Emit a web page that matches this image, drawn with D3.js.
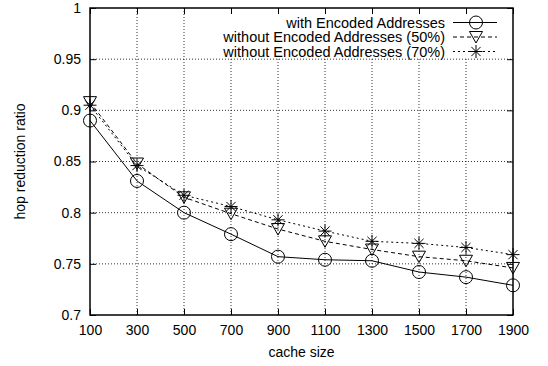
<!DOCTYPE html>
<html>
<head>
<meta charset="utf-8">
<script src="https://cdn.jsdelivr.net/npm/d3@7"></script>
<style>
  body { margin: 0; background: #fff; }
  svg { font-family: "Liberation Sans", Arial, sans-serif; }
</style>
</head>
<body>
<div id="chart"></div>
<script>
// cache sizes on the x axis
const cacheSizes = [100, 300, 500, 700, 900, 1100, 1300, 1500, 1700, 1900];

// hop reduction ratio per series
const withEncoded = [0.890, 0.831, 0.800, 0.779, 0.757, 0.754, 0.753, 0.742, 0.737, 0.729];
const without50 = [0.908, 0.848, 0.815, 0.799, 0.784, 0.772, 0.764, 0.757, 0.753, 0.746];
const without70 = [0.905, 0.846, 0.817, 0.806, 0.793, 0.782, 0.772, 0.770, 0.766, 0.759];

const seriesNames = ["with Encoded Addresses", "without Encoded Addresses (50%)", "without Encoded Addresses (70%)"];
const yTicks = [0.7, 0.75, 0.8, 0.85, 0.9, 0.95, 1];

const W = 548, H = 366;
const margin = { left: 90, right: 35, top: 8, bottom: 51 };
const iw = W - margin.left - margin.right;
const ih = H - margin.top - margin.bottom;

const svg = d3.select("#chart").append("svg")
  .attr("width", W).attr("height", H);

const g = svg.append("g")
  .attr("transform", `translate(${margin.left},${margin.top})`);

const x = d3.scaleLinear().domain([100, 1900]).range([0, iw]);
const y = d3.scaleLinear().domain([0.7, 1]).range([ih, 0]);

/** grid */
g.append("g").selectAll("line")
  .data(cacheSizes.slice(1, -1))
  .join("line")
  .attr("x1", d => x(d)).attr("x2", d => x(d))
  .attr("y1", 0).attr("y2", ih)
  .attr("stroke", "#000").attr("stroke-width", 0.8)
  .attr("stroke-dasharray", "1,2");

g.append("g").selectAll("line")
  .data(yTicks.slice(1, -1))
  .join("line")
  .attr("x1", 0).attr("x2", iw)
  .attr("y1", d => y(d)).attr("y2", d => y(d))
  .attr("stroke", "#000").attr("stroke-width", 0.8)
  .attr("stroke-dasharray", "1,2");

// legend box blanks the grid behind it
g.append("rect")
  .attr("x", 126).attr("y", 0)
  .attr("width", iw - 126).attr("height", 49)
  .attr("fill", "#fff");

/** axes: inward ticks, mirrored */
const fmtY = d => d === 1 ? "1" : d3.format(".2~f")(d);

g.append("g")
  .attr("transform", `translate(0,${ih})`)
  .call(d3.axisBottom(x).tickValues(cacheSizes).tickSize(-6).tickPadding(10).tickFormat(d3.format("d")))
  .call(a => a.select(".domain").remove())
  .call(a => a.selectAll("text").style("font-size", "14px").attr("fill", "#000"));

g.append("g")
  .call(d3.axisTop(x).tickValues(cacheSizes).tickSize(-6).tickFormat(""))
  .call(a => a.select(".domain").remove());

g.append("g")
  .call(d3.axisLeft(y).tickValues(yTicks).tickSize(-6).tickPadding(9).tickFormat(fmtY))
  .call(a => a.select(".domain").remove())
  .call(a => a.selectAll("text").style("font-size", "14px").attr("fill", "#000"));

g.append("g")
  .attr("transform", `translate(${iw},0)`)
  .call(d3.axisRight(y).tickValues(yTicks).tickSize(-6).tickFormat(""))
  .call(a => a.select(".domain").remove());

g.append("rect")
  .attr("width", iw).attr("height", ih)
  .attr("fill", "none").attr("stroke", "#000").attr("stroke-width", 1.5);

/** series */
const dashes = [null, "4,3", "2,3"];
const allSeries = [withEncoded, without50, without70];

const line = d3.line()
  .x((d, i) => x(cacheSizes[i]))
  .y(d => y(d));

function drawMarker(sel, type) {
  if (type === 0) {
    sel.append("circle").attr("r", 6.5)
      .attr("fill", "none").attr("stroke", "#000").attr("stroke-width", 1);
  } else if (type === 1) {
    sel.append("path").attr("d", "M-6.5,-5.5L6.5,-5.5L0,6Z")
      .attr("fill", "none").attr("stroke", "#000").attr("stroke-width", 1);
  } else {
    sel.append("path").attr("d", "M-6.5,0L6.5,0M0,-6.5L0,6.5M-4.6,-4.6L4.6,4.6M-4.6,4.6L4.6,-4.6")
      .attr("fill", "none").attr("stroke", "#000").attr("stroke-width", 1);
  }
}

allSeries.forEach((vals, s) => {
  g.append("path")
    .datum(vals)
    .attr("d", line)
    .attr("fill", "none")
    .attr("stroke", "#000")
    .attr("stroke-width", 1)
    .attr("stroke-dasharray", dashes[s]);

  g.append("g").selectAll("g")
    .data(vals)
    .join("g")
    .attr("transform", (d, i) => `translate(${x(cacheSizes[i])},${y(d)})`)
    .each(function () { drawMarker(d3.select(this), s); });
});

/** legend */
const legend = g.append("g").attr("transform", `translate(${iw - 60},${14.5})`);
seriesNames.forEach((name, s) => {
  const row = legend.append("g").attr("transform", `translate(0,${s * 14.5})`);
  row.append("text")
    .attr("x", -8).attr("y", 0).attr("dy", "0.35em")
    .attr("text-anchor", "end")
    .style("font-size", "14.5px")
    .text(name);
  row.append("line")
    .attr("x1", 0).attr("x2", 44)
    .attr("stroke", "#000").attr("stroke-width", 1)
    .attr("stroke-dasharray", dashes[s]);
  const m = row.append("g").attr("transform", "translate(23,0)");
  drawMarker(m, s);
});

/** axis titles */
svg.append("text")
  .attr("x", margin.left + iw / 2).attr("y", 357)
  .attr("text-anchor", "middle")
  .style("font-size", "14px")
  .text("cache size");

svg.append("text")
  .attr("transform", `translate(25,${margin.top + ih / 2}) rotate(-90)`)
  .attr("text-anchor", "middle")
  .style("font-size", "14px")
  .text("hop reduction ratio");
</script>
</body>
</html>
